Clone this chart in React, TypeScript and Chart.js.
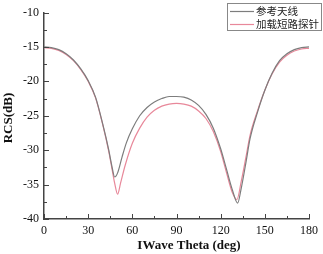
import React, { useEffect, useRef } from "react";
import { Chart, registerables } from "chart.js";

Chart.register(...registerables);

const refTheta = [0, 5, 10, 15, 20, 25, 30, 35, 40, 44, 46, 48, 50, 53, 56, 60, 65, 70, 75, 80, 85, 90, 95, 100, 105, 110, 115, 120, 124, 128, 131.5, 134, 137, 140, 145, 150, 155, 160, 165, 170, 175, 180];
const refRcs = [-15.0, -15.1, -15.4, -16.0, -16.9, -18.2, -19.9, -22.3, -26.3, -30.0, -32.2, -33.9, -33.3, -31.0, -28.9, -26.9, -25.0, -23.8, -23.0, -22.5, -22.2, -22.2, -22.3, -22.7, -23.5, -24.8, -26.8, -29.8, -32.8, -35.8, -37.7, -35.5, -32.0, -28.3, -24.5, -21.3, -18.8, -17.0, -16.0, -15.4, -15.1, -15.0];

const probeTheta = [0, 5, 10, 15, 20, 25, 30, 35, 40, 44, 46, 48, 50, 52, 55, 60, 65, 70, 75, 80, 85, 90, 95, 100, 105, 110, 115, 120, 124, 128, 131, 134, 137, 140, 145, 150, 155, 160, 165, 170, 175, 180];
const probeRcs = [-15.1, -15.2, -15.5, -16.1, -17.0, -18.3, -20.0, -22.4, -26.4, -30.2, -32.5, -34.8, -36.4, -34.8, -32.3, -29.0, -26.8, -25.2, -24.2, -23.6, -23.3, -23.2, -23.3, -23.6, -24.3, -25.4, -27.3, -30.2, -33.3, -36.2, -37.2, -34.5, -31.2, -27.8, -24.3, -21.3, -18.9, -17.2, -16.2, -15.6, -15.3, -15.2];

const seriesNames = ["参考天线", "加载短路探针"];
const seriesColors = ["#7d7d7d", "#e8889a"];
const xTicks = [0, 30, 60, 90, 120, 150, 180];
const yTicks = [-40, -35, -30, -25, -20, -15, -10];
const xTitle = "IWave Theta (deg)";
const yTitle = "RCS(dB)";

const SERIF = "'Liberation Serif', 'DejaVu Serif', serif";
const CJK = "'Noto Sans CJK SC', sans-serif";

const decorPlugin = {
  id: "decor",
  afterDraw(chart: any) {
    const ctx = chart.ctx;
    const xs = chart.scales.x;
    const ys = chart.scales.y;
    const { left, bottom } = chart.chartArea;
    ctx.save();
    ctx.strokeStyle = "#444";
    ctx.lineWidth = 1;
    for (let v = 0; v <= 180; v += 15) {
      const px = Math.round(xs.getPixelForValue(v)) + 0.5;
      const len = v % 30 === 0 ? 5 : 3;
      ctx.beginPath();
      ctx.moveTo(px, bottom);
      ctx.lineTo(px, bottom - len);
      ctx.stroke();
    }
    for (let v = -40; v <= -10; v += 2.5) {
      const py = Math.round(ys.getPixelForValue(v)) + 0.5;
      const len = v % 5 === 0 ? 5 : 3;
      ctx.beginPath();
      ctx.moveTo(left, py);
      ctx.lineTo(left + len, py);
      ctx.stroke();
    }
    ctx.fillStyle = "#111";
    ctx.font = "bold 13px " + SERIF;
    ctx.textAlign = "center";
    ctx.textBaseline = "middle";
    ctx.fillText(xTitle, 189, 246);
    ctx.save();
    ctx.translate(9, 118);
    ctx.rotate(-Math.PI / 2);
    ctx.fillText(yTitle, 0, 0);
    ctx.restore();
    ctx.strokeStyle = "#888";
    ctx.lineWidth = 1;
    ctx.strokeRect(227.5, 3.5, 94, 27);
    ctx.font = "10.5px " + CJK;
    ctx.textAlign = "left";
    ctx.textBaseline = "middle";
    seriesNames.forEach((name, i) => {
      const y = 11 + i * 13;
      ctx.strokeStyle = seriesColors[i];
      ctx.lineWidth = 1.2;
      ctx.beginPath();
      ctx.moveTo(230, y + 0.5);
      ctx.lineTo(254, y + 0.5);
      ctx.stroke();
      ctx.fillStyle = "#222";
      ctx.fillText(name, 256, y + 0.5);
    });
    ctx.restore();
  },
};

export default function App() {
  const canvasRef = useRef<HTMLCanvasElement | null>(null);
  useEffect(() => {
    document.body.style.margin = "0";
    const canvas = canvasRef.current;
    if (!canvas) return;
    const chart = new Chart(canvas, {
      type: "line",
      data: {
        datasets: [
          {
            label: seriesNames[0],
            data: refTheta.map((t, i) => ({ x: t, y: refRcs[i] })),
            borderColor: seriesColors[0],
            borderWidth: 1.2,
            pointRadius: 0,
            cubicInterpolationMode: "monotone",
            fill: false,
          },
          {
            label: seriesNames[1],
            data: probeTheta.map((t, i) => ({ x: t, y: probeRcs[i] })),
            borderColor: seriesColors[1],
            borderWidth: 1.2,
            pointRadius: 0,
            cubicInterpolationMode: "monotone",
            fill: false,
          },
        ],
      },
      options: {
        responsive: false,
        animation: false,
        layout: { padding: { top: 12.5, right: 9, left: 0, bottom: 0 } },
        plugins: { legend: { display: false }, tooltip: { enabled: false } },
        scales: {
          x: {
            type: "linear",
            min: 0,
            max: 180,
            afterBuildTicks: (s: any) => {
              s.ticks = xTicks.map((v) => ({ value: v }));
            },
            afterFit: (s: any) => {
              s.height = 35;
            },
            grid: { display: true, drawOnChartArea: false, drawTicks: false },
            border: { display: true, color: "#444", width: 1.5 },
            ticks: {
              padding: 5,
              color: "#111",
              font: { family: SERIF, size: 12 },
              maxRotation: 0,
              autoSkip: false,
            },
          },
          y: {
            type: "linear",
            min: -40,
            max: -10,
            afterBuildTicks: (s: any) => {
              s.ticks = yTicks.map((v) => ({ value: v }));
            },
            afterFit: (s: any) => {
              s.width = 44;
            },
            grid: { display: true, drawOnChartArea: false, drawTicks: false },
            border: { display: true, color: "#444", width: 1.5 },
            ticks: {
              padding: 5,
              color: "#111",
              font: { family: SERIF, size: 12 },
              autoSkip: false,
            },
          },
        },
      },
      plugins: [decorPlugin],
    } as any);
    return () => chart.destroy();
  }, []);
  return (
    <div style={{ width: 323, height: 254 }}>
      <canvas ref={canvasRef} width={323} height={254} style={{ width: 323, height: 254, display: "block" }} />
    </div>
  );
}
